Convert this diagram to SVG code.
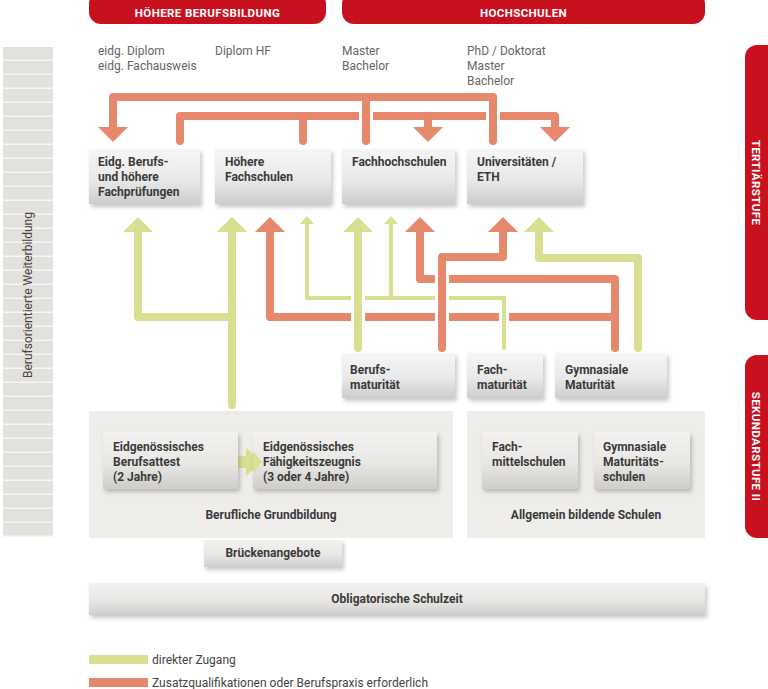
<svg xmlns="http://www.w3.org/2000/svg" width="768" height="689" viewBox="0 0 768 689">
<defs>
<linearGradient id="box" x1="0" y1="0" x2="0" y2="1">
<stop offset="0" stop-color="#f6f6f6"/><stop offset="0.55" stop-color="#e9e9e9"/><stop offset="1" stop-color="#cdcdcd"/>
</linearGradient>
<linearGradient id="box2" x1="0" y1="0" x2="0" y2="1">
<stop offset="0" stop-color="#f3f2f0"/><stop offset="0.55" stop-color="#e8e7e4"/><stop offset="1" stop-color="#cfcdca"/>
</linearGradient>
<linearGradient id="garrow" x1="0" y1="0" x2="1" y2="0">
<stop offset="0" stop-color="#d9df90" stop-opacity="0"/><stop offset="0.6" stop-color="#d9df90" stop-opacity="0.9"/><stop offset="1" stop-color="#d9df90"/>
</linearGradient>
<filter id="sh" x="-10%" y="-10%" width="125%" height="140%">
<feDropShadow dx="2" dy="3" stdDeviation="2" flood-color="#000" flood-opacity="0.22"/>
</filter>
<pattern id="stripes" x="0" y="47" width="50" height="14" patternUnits="userSpaceOnUse">
<rect width="50" height="14" fill="#e3e1dd"/><rect y="12.5" width="50" height="1.5" fill="#f7f6f4"/>
</pattern>
</defs>
<style>
text{font-family:Roboto,"Liberation Sans",sans-serif;}
.lbl{font-size:12px;fill:#666;}
.nt{font-size:12px;font-weight:bold;fill:#3a3a3a;}
.ban{font-size:11.5px;font-weight:bold;fill:#fff;letter-spacing:0.4px;}
.red{fill:#c8101f;}
.node{fill:url(#box);filter:url(#sh);}
.inner{fill:url(#box2);filter:url(#sh);}
.panel{fill:#efedea;}
.g{fill:none;stroke:#d9df90;stroke-width:8;stroke-linecap:round;stroke-linejoin:round;}
.gt{fill:none;stroke:#d9df90;stroke-width:4;stroke-linecap:round;stroke-linejoin:round;}
.o{fill:none;stroke:#e5886b;stroke-width:8;stroke-linecap:round;stroke-linejoin:round;}
.halo{fill:none;stroke:#fff;stroke-width:14;}
.halot{fill:none;stroke:#fff;stroke-width:10;}
.gh{fill:#d9df90;}
.oh{fill:#e5886b;}
.leg{font-size:12px;fill:#444;}
</style>

<g id="banner-hbb"><rect class="red" x="89" y="-8" width="237" height="32" rx="12"/><text class="ban" x="207.5" y="17" text-anchor="middle">HÖHERE BERUFSBILDUNG</text></g>
<g id="banner-hs"><rect class="red" x="342" y="-8" width="363" height="32" rx="12"/><text class="ban" x="523.5" y="17" text-anchor="middle">HOCHSCHULEN</text></g>
<g id="banner-tertiaer"><rect class="red" x="745" y="45" width="40" height="275" rx="12"/><text class="ban" transform="translate(752,182.5) rotate(90)" text-anchor="middle">TERTIÄRSTUFE</text></g>
<g id="banner-sek"><rect class="red" x="745" y="355" width="40" height="183" rx="12"/><text class="ban" transform="translate(752,446.5) rotate(90)" text-anchor="middle">SEKUNDARSTUFE II</text></g>

<g id="weiterbildung"><rect x="3" y="47" width="50" height="490" fill="url(#stripes)"/><text transform="translate(32,295) rotate(-90)" text-anchor="middle" style="font-size:12px;fill:#444;">Berufsorientierte Weiterbildung</text></g>

<g id="degrees">
<text class="lbl" x="98" y="55">eidg. Diplom</text>
<text class="lbl" x="98" y="70">eidg. Fachausweis</text>
<text class="lbl" x="215" y="55">Diplom HF</text>
<text class="lbl" x="342" y="55">Master</text>
<text class="lbl" x="342" y="70">Bachelor</text>
<text class="lbl" x="467" y="55">PhD / Doktorat</text>
<text class="lbl" x="467" y="70">Master</text>
<text class="lbl" x="467" y="85">Bachelor</text>
</g>

<g id="panel-bg"><rect class="panel" x="89" y="411" width="364" height="127"/><text class="nt" x="271" y="519" text-anchor="middle">Berufliche Grundbildung</text></g>
<g id="panel-abs"><rect class="panel" x="467" y="411" width="238" height="127"/><text class="nt" x="586" y="519" text-anchor="middle">Allgemein bildende Schulen</text></g>

<g id="connectors">
<!-- top orange -->
<path class="o" d="M180,141 V116 H555 V128"/>
<path class="o" d="M303,141 V116"/>
<path class="o" d="M428,116 V128"/>
<polygon class="oh" points="413,127 443,127 428,142"/>
<polygon class="oh" points="540,127 570,127 555,142"/>
<path class="halo" d="M366,106 V126 M493,106 V126"/>
<path class="o" d="M366,141 V97 H113 V128"/>
<path class="o" d="M493,141 V97 H366"/>
<polygon class="oh" points="98,127 128,127 113,142"/>
<!-- lower -->
<path class="o" d="M615,348 V279 H420 V231"/>
<path class="o" d="M615,317 H270 V231"/>
<path class="g" d="M232,405 V231"/>
<path class="g" d="M232,317 H138 V231"/>
<path class="gt" d="M504,348 V298 H307 V223"/>
<path class="gt" d="M391,298 V223"/>
<path class="halot" d="M504,309 V325"/>
<path class="gt" d="M504,348 V298"/>
<path class="halo" d="M358,290 V306 M358,309 V325"/>
<path class="g" d="M358,348 V231"/>
<path class="halo" d="M442,271 V287 M442,290 V306 M442,309 V325"/>
<path class="o" d="M442,348 V257 H503 V231"/>
<path class="g" d="M638,348 V258 H539 V231"/>
<polygon class="gh" points="123,232 153,232 138,217"/>
<polygon class="gh" points="217,232 247,232 232,217"/>
<polygon class="oh" points="255,232 285,232 270,217"/>
<polygon class="gh" points="300,224 314,224 307,216"/>
<polygon class="gh" points="343,232 373,232 358,217"/>
<polygon class="gh" points="384,224 398,224 391,216"/>
<polygon class="oh" points="405,232 435,232 420,217"/>
<polygon class="oh" points="488,232 518,232 503,217"/>
<polygon class="gh" points="524,232 554,232 539,217"/>
<!-- EBA to EFZ -->
<rect x="218" y="456" width="30" height="12" fill="url(#garrow)"/>
<polygon points="246,448 262,462 246,476" fill="#d9df90"/>
</g>

<g id="n-ebhf"><rect class="node" x="89" y="149" width="111" height="55"/><text class="nt" x="98" y="166">Eidg. Berufs-</text><text class="nt" x="98" y="181">und höhere</text><text class="nt" x="98" y="196">Fachprüfungen</text></g>
<g id="n-hf"><rect class="node" x="215" y="149" width="116" height="55"/><text class="nt" x="225" y="166">Höhere</text><text class="nt" x="225" y="181">Fachschulen</text></g>
<g id="n-fh"><rect class="node" x="342" y="149" width="113" height="55"/><text class="nt" x="352" y="166">Fachhochschulen</text></g>
<g id="n-uni"><rect class="node" x="467" y="149" width="116" height="55"/><text class="nt" x="477" y="166">Universitäten /</text><text class="nt" x="477" y="181">ETH</text></g>

<g id="n-bm"><rect class="node" x="342" y="353" width="113" height="45"/><text class="nt" x="350" y="374">Berufs-</text><text class="nt" x="350" y="389">maturität</text></g>
<g id="n-fm"><rect class="node" x="467" y="353" width="76" height="45"/><text class="nt" x="477" y="374">Fach-</text><text class="nt" x="477" y="389">maturität</text></g>
<g id="n-gm"><rect class="node" x="555" y="353" width="112" height="45"/><text class="nt" x="565" y="374">Gymnasiale</text><text class="nt" x="565" y="389">Maturität</text></g>

<g id="n-eba"><rect class="inner" x="103" y="432" width="135" height="57"/><text class="nt" x="113" y="451">Eidgenössisches</text><text class="nt" x="113" y="466">Berufsattest</text><text class="nt" x="113" y="481">(2 Jahre)</text></g>
<g id="n-efz"><rect class="inner" x="253" y="432" width="184" height="57"/><text class="nt" x="263" y="451">Eidgenössisches</text><text class="nt" x="263" y="466">Fähigkeitszeugnis</text><text class="nt" x="263" y="481">(3 oder 4 Jahre)</text></g>
<polygon points="253,451 262,462 253,473" fill="#d9df90" opacity="0.9"/>
<g id="n-fms"><rect class="inner" x="482" y="432" width="96" height="57"/><text class="nt" x="492" y="451">Fach-</text><text class="nt" x="492" y="466">mittelschulen</text></g>
<g id="n-gms"><rect class="inner" x="594" y="432" width="96" height="57"/><text class="nt" x="603" y="451">Gymnasiale</text><text class="nt" x="603" y="466">Maturitäts-</text><text class="nt" x="603" y="481">schulen</text></g>

<g id="n-bruecke"><rect class="inner" x="204" y="540" width="138" height="27"/><text class="nt" x="273" y="553" text-anchor="middle" dominant-baseline="central">Brückenangebote</text></g>
<g id="n-oblig"><rect class="inner" x="89" y="583" width="616" height="32"/><text class="nt" x="397" y="599" text-anchor="middle" dominant-baseline="central">Obligatorische Schulzeit</text></g>

<g id="legend">
<rect x="89" y="655" width="59" height="9" fill="#d9df90"/><text class="leg" x="152" y="664">direkter Zugang</text>
<rect x="89" y="678" width="59" height="9" fill="#e5886b"/><text class="leg" x="152" y="687">Zusatzqualifikationen oder Berufspraxis erforderlich</text>
</g>
</svg>
